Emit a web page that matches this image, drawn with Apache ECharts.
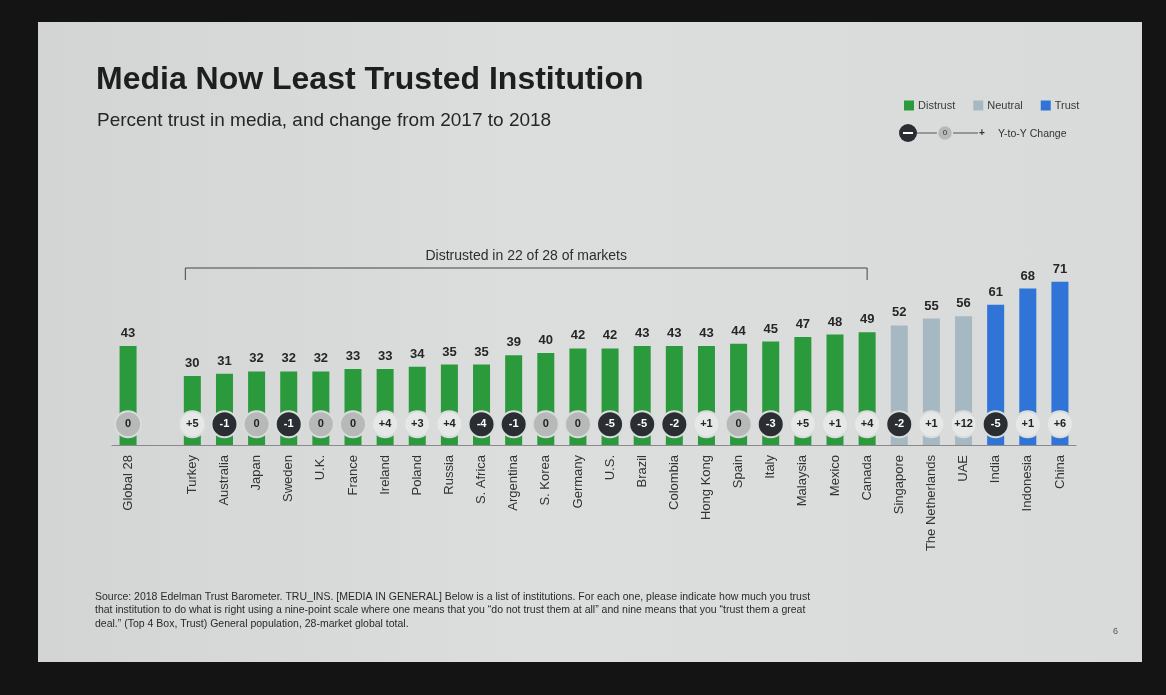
<!DOCTYPE html>
<html>
<head>
<meta charset="utf-8">
<script src="https://cdn.jsdelivr.net/npm/echarts@6/dist/echarts.min.js"></script>
<style>
  html, body { margin: 0; padding: 0; width: 1166px; height: 695px; background: #141414; overflow: hidden; }
  #slide { position: absolute; left: 38px; top: 22px; width: 1104px; height: 640px;
           background: linear-gradient(90deg, #d3d5d5 0%, #dcdddd 45%, #d9dada 100%); }
  #chart { width: 1104px; height: 640px; }
</style>
</head>
<body>
<div id="slide"><div id="chart"></div></div>
<script>
// markets, '' is the gap after the global figure
var categories = ['Global 28', '', 'Turkey', 'Australia', 'Japan', 'Sweden', 'U.K.', 'France', 'Ireland',
    'Poland', 'Russia', 'S. Africa', 'Argentina', 'S. Korea', 'Germany', 'U.S.', 'Brazil', 'Colombia',
    'Hong Kong', 'Spain', 'Italy', 'Malaysia', 'Mexico', 'Canada', 'Singapore', 'The Netherlands',
    'UAE', 'India', 'Indonesia', 'China'];

// percent trust in media, 2018
var trustValues = [43, null, 30, 31, 32, 32, 32, 33, 33, 34, 35, 35, 39, 40, 42, 42, 43, 43,
    43, 44, 45, 47, 48, 49, 52, 55, 56, 61, 68, 71];

// change from 2017 to 2018
var yoyChange = [0, null, 5, -1, 0, -1, 0, 0, 4, 3, 4, -4, -1, 0, 0, -5, -5, -2,
    1, 0, -3, 5, 1, 4, -2, 1, 12, -5, 1, 6];

var legendNames = ['Distrust', 'Neutral', 'Trust'];

var GREEN = '#2a9a3c', NEUTRAL = '#a6b9c3', BLUE = '#2f74d6';
var CIRCLE_Y = 9;

function inBand(lo, hi) {
    return trustValues.map(function (v) { return (v !== null && v >= lo && v <= hi) ? v : null; });
}

var barLabel = {
    show: true, position: 'top', distance: 6,
    fontFamily: 'Liberation Sans', fontWeight: 'bold', fontSize: 13, color: '#262626'
};

function barSeries(name, color, data) {
    return {
        name: name, type: 'bar', data: data, barWidth: 17, barGap: '-100%',
        itemStyle: { color: color },
        label: barLabel
    };
}

var circleData = yoyChange.map(function (c) {
    if (c === null) return null;
    var fill = c < 0 ? '#2a2d31' : (c === 0 ? '#b7b8b8' : '#e6e7e7');
    return {
        value: CIRCLE_Y, change: c,
        itemStyle: { color: fill, opacity: 1, borderColor: '#dadbdb', borderWidth: 2 },
        label: { color: c < 0 ? '#ffffff' : '#222222' }
    };
});

var chart = echarts.init(document.getElementById('chart'));

var option = {
    animation: false,
    textStyle: { fontFamily: 'Liberation Sans' },
    title: [
        {
            text: 'Media Now Least Trusted Institution', left: 53, top: 37,
            textStyle: { fontFamily: 'Liberation Sans', fontWeight: 'bold', fontSize: 32, color: '#1e1e1e' }
        },
        {
            text: 'Percent trust in media, and change from 2017 to 2018', left: 54, top: 84,
            textStyle: { fontFamily: 'Liberation Sans', fontWeight: 'normal', fontSize: 19, color: '#262626' }
        }
    ],
    legend: {
        data: legendNames, left: 861, top: 73, icon: 'rect', itemWidth: 10, itemHeight: 10,
        itemGap: 18, selectedMode: false,
        textStyle: { fontSize: 11, color: '#3a3a3a', padding: [0, 0, 0, -1] }
    },
    grid: { left: 74, right: 66, top: 193, bottom: 217 },
    xAxis: {
        type: 'category', data: categories,
        axisTick: { show: false },
        axisLine: { show: true, lineStyle: { color: '#8a8a8a', width: 1 } },
        axisLabel: { interval: 0, rotate: 90, margin: 10, fontSize: 13, color: '#333333' }
    },
    yAxis: { type: 'value', min: 0, max: 100, show: false, splitLine: { show: false } },
    series: [
        barSeries('Distrust', GREEN, inBand(0, 49)),
        barSeries('Neutral', NEUTRAL, inBand(50, 59)),
        barSeries('Trust', BLUE, inBand(60, 100)),
        {
            name: 'Y-to-Y Change', type: 'scatter', data: circleData, symbolSize: 26, z: 5,
            itemStyle: { opacity: 1 },
            label: {
                show: true, position: 'inside', fontWeight: 'bold', fontSize: 11,
                formatter: function (p) { var c = p.data.change; return c > 0 ? '+' + c : String(c); }
            }
        }
    ]
};

chart.setOption(option);

// bracket over the distrusted markets and other slide furniture
var xStart = chart.convertToPixel({ xAxisIndex: 0 }, 'Turkey') - 7;
var xEnd = chart.convertToPixel({ xAxisIndex: 0 }, 'Canada');
var bracketY = 246;

chart.setOption({
    graphic: [
        {
            type: 'polyline', silent: true,
            shape: { points: [[xStart, bracketY + 12], [xStart, bracketY], [xEnd, bracketY], [xEnd, bracketY + 12]] },
            style: { stroke: '#444444', lineWidth: 1, fill: null }
        },
        {
            type: 'text', x: (xStart + xEnd) / 2, y: bracketY - 12,
            style: { text: 'Distrusted in 22 of 28 of markets', fontSize: 14, fill: '#2e2e2e',
                     align: 'center', verticalAlign: 'middle', fontFamily: 'Liberation Sans' }
        },
        // Y-to-Y change key
        { type: 'line', shape: { x1: 870, y1: 111, x2: 940, y2: 111 }, style: { stroke: '#555', lineWidth: 1.2 } },
        { type: 'circle', shape: { cx: 870, cy: 111, r: 9 }, style: { fill: '#2a2d31' } },
        { type: 'rect', shape: { x: 865, y: 110, width: 10, height: 2 }, style: { fill: '#ffffff' } },
        { type: 'circle', shape: { cx: 907, cy: 111, r: 7.5 }, style: { fill: '#b7b8b8', stroke: '#dadbdb', lineWidth: 1.5 } },
        { type: 'text', x: 907, y: 111, style: { text: '0', fontSize: 8, fill: '#333', align: 'center', verticalAlign: 'middle' } },
        { type: 'text', x: 944, y: 111, style: { text: '+', fontSize: 10, fontWeight: 'bold', fill: '#333', align: 'center', verticalAlign: 'middle' } },
        { type: 'text', x: 960, y: 112, style: { text: 'Y-to-Y Change', fontSize: 10.5, fill: '#333', verticalAlign: 'middle' } },
        // source note
        {
            type: 'text', x: 57, y: 568,
            style: {
                text: 'Source: 2018 Edelman Trust Barometer. TRU_INS. [MEDIA IN GENERAL] Below is a list of institutions. For each one, please indicate how much you trust\n' +
                      'that institution to do what is right using a nine-point scale where one means that you \u201cdo not trust them at all\u201d and nine means that you \u201ctrust them a great\n' +
                      'deal.\u201d (Top 4 Box, Trust) General population, 28-market global total.',
                fontSize: 10.5, lineHeight: 13.5, fill: '#2a2a2a', fontFamily: 'Liberation Sans'
            }
        },
        { type: 'text', x: 1075, y: 605, style: { text: '6', fontSize: 9, fill: '#555' } }
    ]
});
</script>
</body>
</html>
